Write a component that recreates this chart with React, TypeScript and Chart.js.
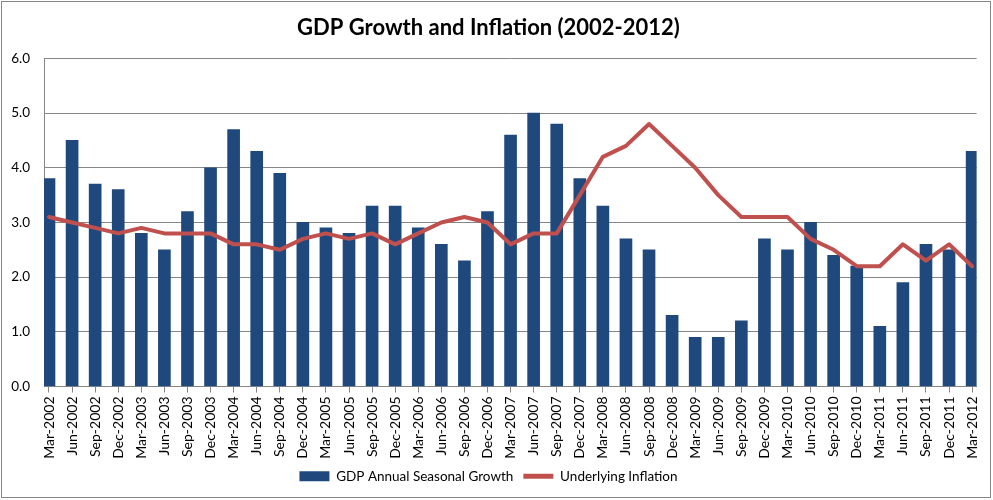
import React, { useEffect, useRef } from "react";
import { Chart, registerables } from "chart.js";

Chart.register(...registerables);

const categories = [
  "Mar-2002", "Jun-2002", "Sep-2002", "Dec-2002",
  "Mar-2003", "Jun-2003", "Sep-2003", "Dec-2003",
  "Mar-2004", "Jun-2004", "Sep-2004", "Dec-2004",
  "Mar-2005", "Jun-2005", "Sep-2005", "Dec-2005",
  "Mar-2006", "Jun-2006", "Sep-2006", "Dec-2006",
  "Mar-2007", "Jun-2007", "Sep-2007", "Dec-2007",
  "Mar-2008", "Jun-2008", "Sep-2008", "Dec-2008",
  "Mar-2009", "Jun-2009", "Sep-2009", "Dec-2009",
  "Mar-2010", "Jun-2010", "Sep-2010", "Dec-2010",
  "Mar-2011", "Jun-2011", "Sep-2011", "Dec-2011",
  "Mar-2012",
];

const gdpGrowth = [
  3.8, 4.5, 3.7, 3.6, 2.8, 2.5, 3.2, 4.0, 4.7, 4.3,
  3.9, 3.0, 2.9, 2.8, 3.3, 3.3, 2.9, 2.6, 2.3, 3.2,
  4.6, 5.0, 4.8, 3.8, 3.3, 2.7, 2.5, 1.3, 0.9, 0.9,
  1.2, 2.7, 2.5, 3.0, 2.4, 2.2, 1.1, 1.9, 2.6, 2.5,
  4.3,
];

const inflation = [
  3.1, 3.0, 2.9, 2.8, 2.9, 2.8, 2.8, 2.8, 2.6, 2.6,
  2.5, 2.7, 2.8, 2.7, 2.8, 2.6, 2.8, 3.0, 3.1, 3.0,
  2.6, 2.8, 2.8, 3.5, 4.2, 4.4, 4.8, 4.4, 4.0, 3.5,
  3.1, 3.1, 3.1, 2.7, 2.5, 2.2, 2.2, 2.6, 2.3, 2.6,
  2.2,
];

const yTicks = [0, 1, 2, 3, 4, 5, 6];

const TITLE = "GDP Growth and Inflation (2002-2012)";
const SERIES_GDP = "GDP Annual Seasonal Growth";
const SERIES_INF = "Underlying Inflation";

const FONT = "Lato, 'Open Sans', sans-serif";
const NAVY = "#1F497D";
const RED = "#C0504D";
const GREY = "#868686";

export default function App() {
  const ref = useRef<HTMLCanvasElement | null>(null);

  useEffect(() => {
    document.body.style.margin = "0";
    const canvas = ref.current;
    if (!canvas) return;

    const framePlugin = {
      id: "frame",
      beforeDraw(chart: any) {
        const ctx = chart.ctx;
        ctx.save();
        ctx.fillStyle = "#ffffff";
        ctx.fillRect(0, 0, chart.width, chart.height);
        ctx.restore();
      },
      afterDraw(chart: any) {
        const ctx = chart.ctx;
        ctx.save();
        ctx.strokeStyle = GREY;
        ctx.lineWidth = 1;
        ctx.strokeRect(1.5, 1.5, 989, 496);
        ctx.restore();
      },
    };

    const chart = new Chart(canvas, {
      type: "bar",
      data: {
        datasets: [
          {
            type: "bar",
            label: SERIES_GDP,
            data: gdpGrowth.map((v, i) => ({ x: i, y: v })),
            backgroundColor: NAVY,
            borderWidth: 0,
            barThickness: 12,
            order: 1,
          } as any,
          {
            type: "line",
            label: SERIES_INF,
            data: inflation.map((v, i) => ({ x: i, y: v })),
            borderColor: RED,
            backgroundColor: RED,
            borderWidth: 4,
            pointRadius: 0,
            tension: 0,
            borderJoinStyle: "round",
            borderCapStyle: "round",
            order: 0,
          } as any,
        ],
      },
      options: {
        responsive: false,
        animation: false,
        layout: { padding: { left: 0, right: 16, top: 0, bottom: 7 } },
        scales: {
          x: {
            type: "linear",
            offset: false,
            min: -0.2166,
            max: 40.195,
            afterBuildTicks: (scale: any) => {
              scale.ticks = categories.map((_, i) => ({ value: i }));
            },
            afterFit: (scale: any) => {
              scale.height = 73;
            },
            ticks: {
              autoSkip: false,
              minRotation: 90,
              maxRotation: 90,
              padding: 4,
              color: "#000000",
              font: { family: FONT, size: 14 },
              callback: (v: any) => categories[Math.round(Number(v))] ?? "",
            },
            grid: {
              offset: false,
              drawOnChartArea: false,
              drawTicks: true,
              tickLength: 6,
              color: GREY,
            },
            border: { color: GREY, width: 1 },
          } as any,
          y: {
            min: 0,
            max: 6,
            afterBuildTicks: (scale: any) => {
              scale.ticks = yTicks.map((v) => ({ value: v }));
            },
            afterFit: (scale: any) => {
              scale.width = 44;
            },
            ticks: {
              padding: 14,
              color: "#000000",
              font: { family: FONT, size: 13.5 },
              callback: (v: any) => Number(v).toFixed(1),
            },
            grid: { color: GREY, drawTicks: false, lineWidth: 1 },
            border: { color: GREY, width: 1 },
          } as any,
        },
        plugins: {
          title: {
            display: true,
            text: TITLE,
            color: "#000000",
            font: { family: FONT, size: 22, weight: "bold" },
            padding: { top: 15, bottom: 17 },
          },
          legend: {
            position: "bottom",
            labels: {
              color: "#000000",
              font: { family: FONT, size: 13.5 },
              usePointStyle: true,
              pointStyleWidth: 30,
              boxHeight: 10,
              padding: 10,
              generateLabels: (ch: any) => {
                const base = Chart.defaults.plugins.legend.labels.generateLabels(ch);
                return base
                  .sort((a: any, b: any) => a.datasetIndex - b.datasetIndex)
                  .map((l: any) =>
                    l.datasetIndex === 0
                      ? { ...l, pointStyle: "rect", fillStyle: NAVY, strokeStyle: NAVY, lineWidth: 0 }
                      : { ...l, pointStyle: "line", fillStyle: RED, strokeStyle: RED, lineWidth: 5 }
                  );
              },
            },
          },
          tooltip: { enabled: false },
        },
      } as any,
      plugins: [framePlugin],
    });

    return () => chart.destroy();
  }, []);

  return (
    <div style={{ position: "fixed", left: 0, top: 0, width: 993, height: 500 }}>
      <canvas ref={ref} width={993} height={500} style={{ display: "block" }} />
    </div>
  );
}
